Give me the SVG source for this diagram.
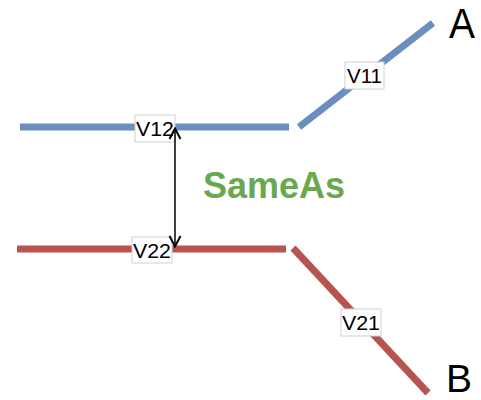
<svg xmlns="http://www.w3.org/2000/svg" width="481" height="400" viewBox="0 0 481 400">
  <defs>
    <style>
      .blue { stroke: #6c8ebf; stroke-width: 7; fill: none; }
      .red { stroke: #b85450; stroke-width: 7; fill: none; }
      .lbl rect { fill: #ffffff; stroke: #d0d0d0; stroke-width: 1; }
      .lbl text { font-family: "Liberation Sans", Arial, sans-serif; font-size: 21px; fill: #000000; text-anchor: middle; }
      .big { font-family: "Liberation Sans", Arial, sans-serif; fill: #000000; }
      .same { font-family: "Liberation Sans", Arial, sans-serif; font-weight: bold; font-size: 36px; fill: #6aa84f; }
    </style>
    <marker id="open" viewBox="0 0 14 14" refX="13" refY="7" markerWidth="14" markerHeight="14" markerUnits="userSpaceOnUse" orient="auto-start-reverse">
      <path d="M2,1.5 L12.5,7 L2,12.5" fill="none" stroke="#000" stroke-width="2"/>
    </marker>
  </defs>
  <rect width="481" height="400" fill="#ffffff"/>

  <!-- path A: horizontal then up to the right -->
  <g id="pathA">
    <line class="blue" x1="20" y1="127" x2="289" y2="127"/>
    <line class="blue" x1="299" y1="127" x2="433" y2="23"/>
  </g>

  <!-- path B: horizontal then down to the right -->
  <g id="pathB">
    <line class="red" x1="17" y1="249" x2="286" y2="249"/>
    <line class="red" x1="293" y1="248" x2="428" y2="393"/>
  </g>

  <g id="V11" class="lbl">
    <rect x="345" y="62" width="39" height="27"/>
    <text x="364.5" y="83" textLength="35" lengthAdjust="spacingAndGlyphs">V11</text>
  </g>
  <g id="V12" class="lbl">
    <rect x="135" y="115" width="40" height="27"/>
    <text x="155" y="136" textLength="38" lengthAdjust="spacingAndGlyphs">V12</text>
  </g>
  <g id="V21" class="lbl">
    <rect x="341" y="309" width="40" height="27"/>
    <text x="361" y="330" textLength="38" lengthAdjust="spacingAndGlyphs">V21</text>
  </g>
  <g id="V22" class="lbl">
    <rect x="132" y="237" width="40" height="26"/>
    <text x="152" y="257.5" textLength="38" lengthAdjust="spacingAndGlyphs">V22</text>
  </g>

  <!-- connectors -->
  <g id="connectors">
    <line x1="175" y1="128" x2="175" y2="247" stroke="#000" stroke-width="1.5" marker-start="url(#open)" marker-end="url(#open)"/>
  </g>

  <g id="A">
    <text class="big" x="449" y="38" font-size="42" textLength="26" lengthAdjust="spacingAndGlyphs">A</text>
  </g>
  <g id="B">
    <text class="big" x="446" y="391.5" font-size="38" textLength="26" lengthAdjust="spacingAndGlyphs">B</text>
  </g>
  <g id="SameAs">
    <text class="same" x="203" y="198">SameAs</text>
  </g>
</svg>
